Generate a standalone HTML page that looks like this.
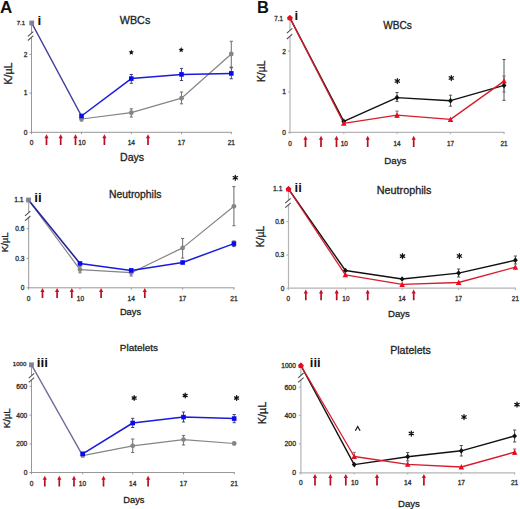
<!DOCTYPE html>
<html><head><meta charset="utf-8"><style>
html,body{margin:0;padding:0;background:#fff;}
svg{display:block;font-family:"Liberation Sans", sans-serif;}
</style></head><body>
<svg width="520" height="509" viewBox="0 0 520 509">
<defs><linearGradient id="ag" x1="0" y1="0" x2="0" y2="1"><stop offset="0" stop-color="#d8102a"/><stop offset="1" stop-color="#a8101e"/></linearGradient></defs>
<rect width="520" height="509" fill="#fff"/>
<line x1="31.5" y1="24" x2="31.5" y2="132.3" stroke="#8c8c8c" stroke-width="0.9"/>
<line x1="31.0" y1="132.3" x2="231.8" y2="132.3" stroke="#8c8c8c" stroke-width="0.9"/>
<line x1="29.5" y1="54.4" x2="31.5" y2="54.4" stroke="#8c8c8c" stroke-width="0.9"/>
<text x="27.3" y="56.775999999999996" font-size="6.6" text-anchor="end" font-weight="normal" fill="#222" stroke="#333" stroke-width="0.3">2</text>
<line x1="29.5" y1="93.1" x2="31.5" y2="93.1" stroke="#8c8c8c" stroke-width="0.9"/>
<text x="27.3" y="95.476" font-size="6.6" text-anchor="end" font-weight="normal" fill="#222" stroke="#333" stroke-width="0.3">1</text>
<line x1="29.5" y1="132.3" x2="31.5" y2="132.3" stroke="#8c8c8c" stroke-width="0.9"/>
<text x="27.3" y="134.67600000000002" font-size="6.6" text-anchor="end" font-weight="normal" fill="#222" stroke="#333" stroke-width="0.3">0</text>
<line x1="31.5" y1="132.3" x2="31.5" y2="134.10000000000002" stroke="#8c8c8c" stroke-width="0.9"/>
<line x1="81.5" y1="132.3" x2="81.5" y2="134.10000000000002" stroke="#8c8c8c" stroke-width="0.9"/>
<line x1="131.3" y1="132.3" x2="131.3" y2="134.10000000000002" stroke="#8c8c8c" stroke-width="0.9"/>
<line x1="181.5" y1="132.3" x2="181.5" y2="134.10000000000002" stroke="#8c8c8c" stroke-width="0.9"/>
<line x1="231.3" y1="132.3" x2="231.3" y2="134.10000000000002" stroke="#8c8c8c" stroke-width="0.9"/>
<text x="31.5" y="145.2" font-size="6.6" text-anchor="middle" font-weight="normal" fill="#222" stroke="#333" stroke-width="0.3">0</text>
<text x="82.0" y="145.2" font-size="6.6" text-anchor="middle" font-weight="normal" fill="#222" stroke="#333" stroke-width="0.3">10</text>
<text x="131.3" y="145.2" font-size="6.6" text-anchor="middle" font-weight="normal" fill="#222" stroke="#333" stroke-width="0.3">14</text>
<text x="181.5" y="145.2" font-size="6.6" text-anchor="middle" font-weight="normal" fill="#222" stroke="#333" stroke-width="0.3">17</text>
<text x="231.3" y="145.2" font-size="6.6" text-anchor="middle" font-weight="normal" fill="#222" stroke="#333" stroke-width="0.3">21</text>
<path d="M27.90,36.40 L33.30,31.60 L33.30,35.70 L27.90,40.50 Z" fill="#fff"/>
<line x1="27.90" y1="36.40" x2="33.30" y2="31.60" stroke="#505050" stroke-width="1.1"/>
<line x1="27.90" y1="40.50" x2="33.30" y2="35.70" stroke="#505050" stroke-width="1.1"/>
<text x="25.1" y="25.2" font-size="6.0" text-anchor="end" font-weight="normal" fill="#222" stroke="#333" stroke-width="0.3">7.1</text>
<text x="37.6" y="25.2" font-size="13.5" text-anchor="start" font-weight="bold" fill="#111" >i</text>
<text x="135" y="23.7" font-size="10.8" text-anchor="middle" font-weight="normal" fill="#222" stroke="#222" stroke-width="0.3">WBCs</text>
<text x="132.1" y="161.3" font-size="10.6" text-anchor="middle" font-weight="normal" fill="#222" stroke="#222" stroke-width="0.3">Days</text>
<text x="0" y="0" font-size="10.8" text-anchor="middle" font-weight="normal" fill="#222" transform="translate(12.1,73.6) rotate(-90)" stroke="#222" stroke-width="0.3">K/µL</text>
<path d="M45.65,145.10 L45.65,138.30 L44.40,138.30 L46.50,134.30 L48.60,138.30 L47.35,138.30 L47.35,145.10 Z" fill="url(#ag)"/>
<path d="M59.85,145.10 L59.85,138.30 L58.60,138.30 L60.70,134.30 L62.80,138.30 L61.55,138.30 L61.55,145.10 Z" fill="url(#ag)"/>
<path d="M74.65,145.10 L74.65,138.30 L73.40,138.30 L75.50,134.30 L77.60,138.30 L76.35,138.30 L76.35,145.10 Z" fill="url(#ag)"/>
<path d="M103.55,145.10 L103.55,138.30 L102.30,138.30 L104.40,134.30 L106.50,138.30 L105.25,138.30 L105.25,145.10 Z" fill="url(#ag)"/>
<path d="M147.15,145.10 L147.15,138.30 L145.90,138.30 L148.00,134.30 L150.10,138.30 L148.85,138.30 L148.85,145.10 Z" fill="url(#ag)"/>
<line x1="81.5" y1="117" x2="81.5" y2="121" stroke="#777" stroke-width="1.1"/>
<line x1="79.9" y1="117" x2="83.1" y2="117" stroke="#777" stroke-width="1.1"/>
<line x1="79.9" y1="121" x2="83.1" y2="121" stroke="#777" stroke-width="1.1"/>
<line x1="131.3" y1="108.8" x2="131.3" y2="117" stroke="#777" stroke-width="1.1"/>
<line x1="129.70000000000002" y1="108.8" x2="132.9" y2="108.8" stroke="#777" stroke-width="1.1"/>
<line x1="129.70000000000002" y1="117" x2="132.9" y2="117" stroke="#777" stroke-width="1.1"/>
<line x1="181.5" y1="92" x2="181.5" y2="103.8" stroke="#777" stroke-width="1.1"/>
<line x1="179.9" y1="92" x2="183.1" y2="92" stroke="#777" stroke-width="1.1"/>
<line x1="179.9" y1="103.8" x2="183.1" y2="103.8" stroke="#777" stroke-width="1.1"/>
<line x1="231.3" y1="41.3" x2="231.3" y2="67" stroke="#777" stroke-width="1.1"/>
<line x1="229.70000000000002" y1="41.3" x2="232.9" y2="41.3" stroke="#777" stroke-width="1.1"/>
<line x1="229.70000000000002" y1="67" x2="232.9" y2="67" stroke="#777" stroke-width="1.1"/>
<line x1="131.3" y1="74.5" x2="131.3" y2="83.3" stroke="#333366" stroke-width="0.9"/>
<line x1="129.70000000000002" y1="74.5" x2="132.9" y2="74.5" stroke="#333366" stroke-width="0.9"/>
<line x1="129.70000000000002" y1="83.3" x2="132.9" y2="83.3" stroke="#333366" stroke-width="0.9"/>
<line x1="181.5" y1="68.4" x2="181.5" y2="80.5" stroke="#333366" stroke-width="0.9"/>
<line x1="179.9" y1="68.4" x2="183.1" y2="68.4" stroke="#333366" stroke-width="0.9"/>
<line x1="179.9" y1="80.5" x2="183.1" y2="80.5" stroke="#333366" stroke-width="0.9"/>
<line x1="231.3" y1="67.8" x2="231.3" y2="78.8" stroke="#333366" stroke-width="0.9"/>
<line x1="229.70000000000002" y1="67.8" x2="232.9" y2="67.8" stroke="#333366" stroke-width="0.9"/>
<line x1="229.70000000000002" y1="78.8" x2="232.9" y2="78.8" stroke="#333366" stroke-width="0.9"/>
<polyline points="81.50,119.00 131.30,112.70 181.50,98.20 231.30,54.00" fill="none" stroke="#858585" stroke-width="1.2" stroke-linejoin="round"/>
<polyline points="81.50,116.00 131.30,78.60 181.50,74.40 231.30,73.40" fill="none" stroke="#1a1ae0" stroke-width="1.5" stroke-linejoin="round"/>
<polyline points="31.70,23.00 81.50,116.00" fill="none" stroke="#3c3c98" stroke-width="1.45" stroke-linejoin="round"/>
<circle cx="81.50" cy="119.00" r="2.4" fill="#858585"/>
<circle cx="131.30" cy="112.70" r="2.4" fill="#858585"/>
<circle cx="181.50" cy="98.20" r="2.4" fill="#858585"/>
<circle cx="231.30" cy="54.00" r="2.4" fill="#858585"/>
<rect x="79.20" y="113.70" width="4.6" height="4.6" fill="#0a0af0"/>
<rect x="129.00" y="76.30" width="4.6" height="4.6" fill="#0a0af0"/>
<rect x="179.20" y="72.10" width="4.6" height="4.6" fill="#0a0af0"/>
<rect x="229.00" y="71.10" width="4.6" height="4.6" fill="#0a0af0"/>
<rect x="29.30" y="20.60" width="4.8" height="4.8" fill="#80809e"/>
<polygon points="131.30,49.60 132.06,51.35 133.96,51.53 132.54,52.80 132.95,54.67 131.30,53.70 129.65,54.67 130.06,52.80 128.64,51.53 130.54,51.35" fill="#111"/>
<polygon points="181.20,47.10 181.96,48.85 183.86,49.03 182.44,50.30 182.85,52.17 181.20,51.20 179.55,52.17 179.96,50.30 178.54,49.03 180.44,48.85" fill="#111"/>
<line x1="28.7" y1="201" x2="28.7" y2="287.8" stroke="#8c8c8c" stroke-width="0.9"/>
<line x1="28.2" y1="287.8" x2="234.4" y2="287.8" stroke="#8c8c8c" stroke-width="0.9"/>
<line x1="26.7" y1="228.7" x2="28.7" y2="228.7" stroke="#8c8c8c" stroke-width="0.9"/>
<text x="24.5" y="231.076" font-size="6.6" text-anchor="end" font-weight="normal" fill="#222" stroke="#333" stroke-width="0.3">0.6</text>
<line x1="26.7" y1="258.3" x2="28.7" y2="258.3" stroke="#8c8c8c" stroke-width="0.9"/>
<text x="24.5" y="260.676" font-size="6.6" text-anchor="end" font-weight="normal" fill="#222" stroke="#333" stroke-width="0.3">0.3</text>
<line x1="26.7" y1="287.8" x2="28.7" y2="287.8" stroke="#8c8c8c" stroke-width="0.9"/>
<text x="24.5" y="290.176" font-size="6.6" text-anchor="end" font-weight="normal" fill="#222" stroke="#333" stroke-width="0.3">0</text>
<line x1="28.7" y1="287.8" x2="28.7" y2="289.6" stroke="#8c8c8c" stroke-width="0.9"/>
<line x1="80" y1="287.8" x2="80" y2="289.6" stroke="#8c8c8c" stroke-width="0.9"/>
<line x1="131.2" y1="287.8" x2="131.2" y2="289.6" stroke="#8c8c8c" stroke-width="0.9"/>
<line x1="182.6" y1="287.8" x2="182.6" y2="289.6" stroke="#8c8c8c" stroke-width="0.9"/>
<line x1="233.9" y1="287.8" x2="233.9" y2="289.6" stroke="#8c8c8c" stroke-width="0.9"/>
<text x="28.7" y="300.6" font-size="6.6" text-anchor="middle" font-weight="normal" fill="#222" stroke="#333" stroke-width="0.3">0</text>
<text x="80.5" y="300.6" font-size="6.6" text-anchor="middle" font-weight="normal" fill="#222" stroke="#333" stroke-width="0.3">10</text>
<text x="131.2" y="300.6" font-size="6.6" text-anchor="middle" font-weight="normal" fill="#222" stroke="#333" stroke-width="0.3">14</text>
<text x="182.6" y="300.6" font-size="6.6" text-anchor="middle" font-weight="normal" fill="#222" stroke="#333" stroke-width="0.3">17</text>
<text x="233.9" y="300.6" font-size="6.6" text-anchor="middle" font-weight="normal" fill="#222" stroke="#333" stroke-width="0.3">21</text>
<path d="M25.00,215.90 L30.40,211.10 L30.40,216.00 L25.00,220.80 Z" fill="#fff"/>
<line x1="25.00" y1="215.90" x2="30.40" y2="211.10" stroke="#505050" stroke-width="1.1"/>
<line x1="25.00" y1="220.80" x2="30.40" y2="216.00" stroke="#505050" stroke-width="1.1"/>
<text x="23.6" y="202.3" font-size="6.8" text-anchor="end" font-weight="normal" fill="#222" stroke="#333" stroke-width="0.3">1.1</text>
<text x="34.3" y="202.2" font-size="13.5" text-anchor="start" font-weight="bold" fill="#111" >ii</text>
<text x="135.2" y="198" font-size="10.35" text-anchor="middle" font-weight="normal" fill="#222" stroke="#222" stroke-width="0.3">Neutrophils</text>
<text x="130.5" y="315" font-size="9.3" text-anchor="middle" font-weight="normal" fill="#222" stroke="#222" stroke-width="0.3">Days</text>
<text x="0" y="0" font-size="9.6" text-anchor="middle" font-weight="normal" fill="#222" transform="translate(8.2,242.3) rotate(-90)" stroke="#222" stroke-width="0.3">K/µL</text>
<path d="M41.65,298.00 L41.65,292.00 L40.40,292.00 L42.50,288.00 L44.60,292.00 L43.35,292.00 L43.35,298.00 Z" fill="url(#ag)"/>
<path d="M56.25,298.00 L56.25,292.00 L55.00,292.00 L57.10,288.00 L59.20,292.00 L57.95,292.00 L57.95,298.00 Z" fill="url(#ag)"/>
<path d="M70.95,298.00 L70.95,292.00 L69.70,292.00 L71.80,288.00 L73.90,292.00 L72.65,292.00 L72.65,298.00 Z" fill="url(#ag)"/>
<path d="M100.25,298.00 L100.25,292.00 L99.00,292.00 L101.10,288.00 L103.20,292.00 L101.95,292.00 L101.95,298.00 Z" fill="url(#ag)"/>
<path d="M143.95,298.00 L143.95,292.00 L142.70,292.00 L144.80,288.00 L146.90,292.00 L145.65,292.00 L145.65,298.00 Z" fill="url(#ag)"/>
<line x1="80" y1="266.5" x2="80" y2="272.8" stroke="#777" stroke-width="1.1"/>
<line x1="78.4" y1="266.5" x2="81.6" y2="266.5" stroke="#777" stroke-width="1.1"/>
<line x1="78.4" y1="272.8" x2="81.6" y2="272.8" stroke="#777" stroke-width="1.1"/>
<line x1="131.2" y1="270" x2="131.2" y2="276" stroke="#777" stroke-width="1.1"/>
<line x1="129.6" y1="270" x2="132.79999999999998" y2="270" stroke="#777" stroke-width="1.1"/>
<line x1="129.6" y1="276" x2="132.79999999999998" y2="276" stroke="#777" stroke-width="1.1"/>
<line x1="182.6" y1="238.5" x2="182.6" y2="258.1" stroke="#777" stroke-width="1.1"/>
<line x1="181.0" y1="238.5" x2="184.2" y2="238.5" stroke="#777" stroke-width="1.1"/>
<line x1="181.0" y1="258.1" x2="184.2" y2="258.1" stroke="#777" stroke-width="1.1"/>
<line x1="233.9" y1="186.6" x2="233.9" y2="225.7" stroke="#777" stroke-width="1.1"/>
<line x1="232.3" y1="186.6" x2="235.5" y2="186.6" stroke="#777" stroke-width="1.1"/>
<line x1="232.3" y1="225.7" x2="235.5" y2="225.7" stroke="#777" stroke-width="1.1"/>
<line x1="233.9" y1="241" x2="233.9" y2="246.6" stroke="#333366" stroke-width="0.9"/>
<line x1="232.3" y1="241" x2="235.5" y2="241" stroke="#333366" stroke-width="0.9"/>
<line x1="232.3" y1="246.6" x2="235.5" y2="246.6" stroke="#333366" stroke-width="0.9"/>
<polyline points="80.00,269.60 131.20,272.70 182.60,247.90 233.90,206.30" fill="none" stroke="#858585" stroke-width="1.2" stroke-linejoin="round"/>
<polyline points="28.50,200.00 80.00,269.60" fill="none" stroke="#858585" stroke-width="1.2" stroke-linejoin="round"/>
<polyline points="80.00,263.50 131.20,270.40 182.60,262.50 233.90,243.60" fill="none" stroke="#1a1ae0" stroke-width="1.5" stroke-linejoin="round"/>
<polyline points="28.50,200.00 80.00,263.50" fill="none" stroke="#24229a" stroke-width="1.6" stroke-linejoin="round"/>
<circle cx="80.00" cy="269.60" r="2.4" fill="#858585"/>
<circle cx="131.20" cy="272.70" r="2.4" fill="#858585"/>
<circle cx="182.60" cy="247.90" r="2.4" fill="#858585"/>
<circle cx="233.90" cy="206.30" r="2.4" fill="#858585"/>
<rect x="77.70" y="261.20" width="4.6" height="4.6" fill="#0a0af0"/>
<rect x="128.90" y="268.10" width="4.6" height="4.6" fill="#0a0af0"/>
<rect x="180.30" y="260.20" width="4.6" height="4.6" fill="#0a0af0"/>
<rect x="231.60" y="241.30" width="4.6" height="4.6" fill="#0a0af0"/>
<rect x="26.10" y="197.60" width="4.8" height="4.8" fill="#80809e"/>
<path d="M235.30,175.30L235.30,180.30M233.13,176.55L237.47,179.05M237.47,176.55L233.13,179.05" stroke="#111" stroke-width="1.25" stroke-linecap="round" fill="none"/>
<line x1="31.5" y1="366" x2="31.5" y2="472.5" stroke="#8c8c8c" stroke-width="0.9"/>
<line x1="31.0" y1="472.5" x2="234.7" y2="472.5" stroke="#8c8c8c" stroke-width="0.9"/>
<line x1="29.5" y1="386.3" x2="31.5" y2="386.3" stroke="#8c8c8c" stroke-width="0.9"/>
<text x="27.3" y="388.676" font-size="6.6" text-anchor="end" font-weight="normal" fill="#222" stroke="#333" stroke-width="0.3">600</text>
<line x1="29.5" y1="415.2" x2="31.5" y2="415.2" stroke="#8c8c8c" stroke-width="0.9"/>
<text x="27.3" y="417.57599999999996" font-size="6.6" text-anchor="end" font-weight="normal" fill="#222" stroke="#333" stroke-width="0.3">400</text>
<line x1="29.5" y1="443.9" x2="31.5" y2="443.9" stroke="#8c8c8c" stroke-width="0.9"/>
<text x="27.3" y="446.27599999999995" font-size="6.6" text-anchor="end" font-weight="normal" fill="#222" stroke="#333" stroke-width="0.3">200</text>
<line x1="29.5" y1="472.5" x2="31.5" y2="472.5" stroke="#8c8c8c" stroke-width="0.9"/>
<text x="27.3" y="474.876" font-size="6.6" text-anchor="end" font-weight="normal" fill="#222" stroke="#333" stroke-width="0.3">0</text>
<line x1="31.5" y1="472.5" x2="31.5" y2="474.3" stroke="#8c8c8c" stroke-width="0.9"/>
<line x1="82.7" y1="472.5" x2="82.7" y2="474.3" stroke="#8c8c8c" stroke-width="0.9"/>
<line x1="132.7" y1="472.5" x2="132.7" y2="474.3" stroke="#8c8c8c" stroke-width="0.9"/>
<line x1="183.5" y1="472.5" x2="183.5" y2="474.3" stroke="#8c8c8c" stroke-width="0.9"/>
<line x1="234.2" y1="472.5" x2="234.2" y2="474.3" stroke="#8c8c8c" stroke-width="0.9"/>
<text x="31.5" y="485.8" font-size="6.6" text-anchor="middle" font-weight="normal" fill="#222" stroke="#333" stroke-width="0.3">0</text>
<text x="82.5" y="485.8" font-size="6.6" text-anchor="middle" font-weight="normal" fill="#222" stroke="#333" stroke-width="0.3">10</text>
<text x="132.7" y="485.8" font-size="6.6" text-anchor="middle" font-weight="normal" fill="#222" stroke="#333" stroke-width="0.3">14</text>
<text x="183.5" y="485.8" font-size="6.6" text-anchor="middle" font-weight="normal" fill="#222" stroke="#333" stroke-width="0.3">17</text>
<text x="234.2" y="485.8" font-size="6.6" text-anchor="middle" font-weight="normal" fill="#222" stroke="#333" stroke-width="0.3">21</text>
<path d="M28.80,378.10 L34.20,373.30 L34.20,377.60 L28.80,382.40 Z" fill="#fff"/>
<line x1="28.80" y1="378.10" x2="34.20" y2="373.30" stroke="#505050" stroke-width="1.1"/>
<line x1="28.80" y1="382.40" x2="34.20" y2="377.60" stroke="#505050" stroke-width="1.1"/>
<text x="26.4" y="366.2" font-size="6.1" text-anchor="end" font-weight="normal" fill="#222" stroke="#333" stroke-width="0.3">1000</text>
<text x="36.8" y="367.4" font-size="13.5" text-anchor="start" font-weight="bold" fill="#111" >iii</text>
<text x="138.9" y="351" font-size="9.95" text-anchor="middle" font-weight="normal" fill="#222" stroke="#222" stroke-width="0.3">Platelets</text>
<text x="133.9" y="502.6" font-size="9.3" text-anchor="middle" font-weight="normal" fill="#222" stroke="#222" stroke-width="0.3">Days</text>
<text x="0" y="0" font-size="9.6" text-anchor="middle" font-weight="normal" fill="#222" transform="translate(9.5,418.3) rotate(-90)" stroke="#222" stroke-width="0.3">K/µL</text>
<path d="M43.95,486.60 L43.95,479.80 L42.70,479.80 L44.80,475.80 L46.90,479.80 L45.65,479.80 L45.65,486.60 Z" fill="url(#ag)"/>
<path d="M58.45,486.60 L58.45,479.80 L57.20,479.80 L59.30,475.80 L61.40,479.80 L60.15,479.80 L60.15,486.60 Z" fill="url(#ag)"/>
<path d="M73.15,486.60 L73.15,479.80 L71.90,479.80 L74.00,475.80 L76.10,479.80 L74.85,479.80 L74.85,486.60 Z" fill="url(#ag)"/>
<path d="M102.65,486.60 L102.65,479.80 L101.40,479.80 L103.50,475.80 L105.60,479.80 L104.35,479.80 L104.35,486.60 Z" fill="url(#ag)"/>
<path d="M147.25,486.60 L147.25,479.80 L146.00,479.80 L148.10,475.80 L150.20,479.80 L148.95,479.80 L148.95,486.60 Z" fill="url(#ag)"/>
<line x1="132.7" y1="439" x2="132.7" y2="452.5" stroke="#777" stroke-width="1.1"/>
<line x1="131.1" y1="439" x2="134.29999999999998" y2="439" stroke="#777" stroke-width="1.1"/>
<line x1="131.1" y1="452.5" x2="134.29999999999998" y2="452.5" stroke="#777" stroke-width="1.1"/>
<line x1="183.5" y1="435.5" x2="183.5" y2="445" stroke="#777" stroke-width="1.1"/>
<line x1="181.9" y1="435.5" x2="185.1" y2="435.5" stroke="#777" stroke-width="1.1"/>
<line x1="181.9" y1="445" x2="185.1" y2="445" stroke="#777" stroke-width="1.1"/>
<line x1="132.7" y1="418.3" x2="132.7" y2="427.5" stroke="#333366" stroke-width="0.9"/>
<line x1="131.1" y1="418.3" x2="134.29999999999998" y2="418.3" stroke="#333366" stroke-width="0.9"/>
<line x1="131.1" y1="427.5" x2="134.29999999999998" y2="427.5" stroke="#333366" stroke-width="0.9"/>
<line x1="183.5" y1="412" x2="183.5" y2="422" stroke="#333366" stroke-width="0.9"/>
<line x1="181.9" y1="412" x2="185.1" y2="412" stroke="#333366" stroke-width="0.9"/>
<line x1="181.9" y1="422" x2="185.1" y2="422" stroke="#333366" stroke-width="0.9"/>
<line x1="234.2" y1="414.5" x2="234.2" y2="422.7" stroke="#333366" stroke-width="0.9"/>
<line x1="232.6" y1="414.5" x2="235.79999999999998" y2="414.5" stroke="#333366" stroke-width="0.9"/>
<line x1="232.6" y1="422.7" x2="235.79999999999998" y2="422.7" stroke="#333366" stroke-width="0.9"/>
<polyline points="82.70,455.70 132.70,445.80 183.50,439.60 234.20,443.50" fill="none" stroke="#858585" stroke-width="1.2" stroke-linejoin="round"/>
<polyline points="31.50,364.80 82.70,455.70" fill="none" stroke="#6c6c9e" stroke-width="1.35" stroke-linejoin="round"/>
<polyline points="82.70,453.80 132.70,423.00 183.50,417.10 234.20,418.60" fill="none" stroke="#1a1ae0" stroke-width="1.5" stroke-linejoin="round"/>
<circle cx="82.70" cy="455.70" r="2.4" fill="#858585"/>
<circle cx="132.70" cy="445.80" r="2.4" fill="#858585"/>
<circle cx="183.50" cy="439.60" r="2.4" fill="#858585"/>
<circle cx="234.20" cy="443.50" r="2.4" fill="#858585"/>
<rect x="80.40" y="451.50" width="4.6" height="4.6" fill="#0a0af0"/>
<rect x="130.40" y="420.70" width="4.6" height="4.6" fill="#0a0af0"/>
<rect x="181.20" y="414.80" width="4.6" height="4.6" fill="#0a0af0"/>
<rect x="231.90" y="416.30" width="4.6" height="4.6" fill="#0a0af0"/>
<rect x="29.10" y="362.40" width="4.8" height="4.8" fill="#80809e"/>
<path d="M134.20,395.70L134.20,400.30M132.21,396.85L136.19,399.15M136.19,396.85L132.21,399.15" stroke="#111" stroke-width="1.25" stroke-linecap="round" fill="none"/>
<path d="M185.20,393.20L185.20,397.80M183.21,394.35L187.19,396.65M187.19,394.35L183.21,396.65" stroke="#111" stroke-width="1.25" stroke-linecap="round" fill="none"/>
<path d="M236.60,395.70L236.60,400.30M234.61,396.85L238.59,399.15M238.59,396.85L234.61,399.15" stroke="#111" stroke-width="1.25" stroke-linecap="round" fill="none"/>
<line x1="290" y1="19" x2="290" y2="132.3" stroke="#b4b4b4" stroke-width="1.2"/>
<line x1="289.5" y1="132.3" x2="504.5" y2="132.3" stroke="#b4b4b4" stroke-width="1.2"/>
<line x1="288" y1="51.2" x2="290" y2="51.2" stroke="#b4b4b4" stroke-width="1.2"/>
<text x="285.8" y="53.576" font-size="6.6" text-anchor="end" font-weight="normal" fill="#222" stroke="#333" stroke-width="0.3">2</text>
<line x1="288" y1="92" x2="290" y2="92" stroke="#b4b4b4" stroke-width="1.2"/>
<text x="285.8" y="94.376" font-size="6.6" text-anchor="end" font-weight="normal" fill="#222" stroke="#333" stroke-width="0.3">1</text>
<line x1="288" y1="132.3" x2="290" y2="132.3" stroke="#b4b4b4" stroke-width="1.2"/>
<text x="285.8" y="134.67600000000002" font-size="6.6" text-anchor="end" font-weight="normal" fill="#222" stroke="#333" stroke-width="0.3">0</text>
<line x1="290" y1="132.3" x2="290" y2="134.10000000000002" stroke="#b4b4b4" stroke-width="1.2"/>
<line x1="343.8" y1="132.3" x2="343.8" y2="134.10000000000002" stroke="#b4b4b4" stroke-width="1.2"/>
<line x1="397" y1="132.3" x2="397" y2="134.10000000000002" stroke="#b4b4b4" stroke-width="1.2"/>
<line x1="450.5" y1="132.3" x2="450.5" y2="134.10000000000002" stroke="#b4b4b4" stroke-width="1.2"/>
<line x1="504" y1="132.3" x2="504" y2="134.10000000000002" stroke="#b4b4b4" stroke-width="1.2"/>
<text x="290.0" y="145.5" font-size="6.4" text-anchor="middle" font-weight="normal" fill="#222" stroke="#333" stroke-width="0.3">0</text>
<text x="344.3" y="145.5" font-size="6.4" text-anchor="middle" font-weight="normal" fill="#222" stroke="#333" stroke-width="0.3">10</text>
<text x="397.0" y="145.5" font-size="6.4" text-anchor="middle" font-weight="normal" fill="#222" stroke="#333" stroke-width="0.3">14</text>
<text x="450.5" y="145.5" font-size="6.4" text-anchor="middle" font-weight="normal" fill="#222" stroke="#333" stroke-width="0.3">17</text>
<text x="504.0" y="145.5" font-size="6.4" text-anchor="middle" font-weight="normal" fill="#222" stroke="#333" stroke-width="0.3">21</text>
<path d="M286.90,33.10 L292.30,28.30 L292.30,34.20 L286.90,39.00 Z" fill="#fff"/>
<line x1="286.90" y1="33.10" x2="292.30" y2="28.30" stroke="#505050" stroke-width="1.1"/>
<line x1="286.90" y1="39.00" x2="292.30" y2="34.20" stroke="#505050" stroke-width="1.1"/>
<text x="282.9" y="20.7" font-size="6.3" text-anchor="end" font-weight="normal" fill="#222" stroke="#333" stroke-width="0.3">7.1</text>
<text x="294.4" y="20.2" font-size="13.0" text-anchor="start" font-weight="bold" fill="#111" >i</text>
<text x="397.5" y="28.8" font-size="10.1" text-anchor="middle" font-weight="normal" fill="#222" stroke="#222" stroke-width="0.3">WBCs</text>
<text x="395.3" y="164.2" font-size="9.7" text-anchor="middle" font-weight="normal" fill="#222" stroke="#222" stroke-width="0.3">Days</text>
<text x="0" y="0" font-size="10.4" text-anchor="middle" font-weight="normal" fill="#222" transform="translate(264.5,71.3) rotate(-90)" stroke="#222" stroke-width="0.3">K/µL</text>
<path d="M304.65,147.00 L304.65,139.80 L303.40,139.80 L305.50,135.80 L307.60,139.80 L306.35,139.80 L306.35,147.00 Z" fill="url(#ag)"/>
<path d="M320.15,147.00 L320.15,139.80 L318.90,139.80 L321.00,135.80 L323.10,139.80 L321.85,139.80 L321.85,147.00 Z" fill="url(#ag)"/>
<path d="M335.65,147.00 L335.65,139.80 L334.40,139.80 L336.50,135.80 L338.60,139.80 L337.35,139.80 L337.35,147.00 Z" fill="url(#ag)"/>
<path d="M366.85,147.00 L366.85,139.80 L365.60,139.80 L367.70,135.80 L369.80,139.80 L368.55,139.80 L368.55,147.00 Z" fill="url(#ag)"/>
<path d="M412.85,147.00 L412.85,139.80 L411.60,139.80 L413.70,135.80 L415.80,139.80 L414.55,139.80 L414.55,147.00 Z" fill="url(#ag)"/>
<line x1="397" y1="92.5" x2="397" y2="101.4" stroke="#444" stroke-width="0.9"/>
<line x1="395.4" y1="92.5" x2="398.6" y2="92.5" stroke="#444" stroke-width="0.9"/>
<line x1="395.4" y1="101.4" x2="398.6" y2="101.4" stroke="#444" stroke-width="0.9"/>
<line x1="450.5" y1="95.2" x2="450.5" y2="106.2" stroke="#444" stroke-width="0.9"/>
<line x1="448.9" y1="95.2" x2="452.1" y2="95.2" stroke="#444" stroke-width="0.9"/>
<line x1="448.9" y1="106.2" x2="452.1" y2="106.2" stroke="#444" stroke-width="0.9"/>
<line x1="504" y1="59.5" x2="504" y2="100.3" stroke="#444" stroke-width="0.9"/>
<line x1="502.4" y1="59.5" x2="505.6" y2="59.5" stroke="#444" stroke-width="0.9"/>
<line x1="502.4" y1="100.3" x2="505.6" y2="100.3" stroke="#444" stroke-width="0.9"/>
<line x1="397" y1="111.1" x2="397" y2="117.4" stroke="#666" stroke-width="0.9"/>
<line x1="395.4" y1="111.1" x2="398.6" y2="111.1" stroke="#666" stroke-width="0.9"/>
<line x1="395.4" y1="117.4" x2="398.6" y2="117.4" stroke="#666" stroke-width="0.9"/>
<line x1="504" y1="76" x2="504" y2="92" stroke="#666" stroke-width="0.9"/>
<line x1="502.4" y1="76" x2="505.6" y2="76" stroke="#666" stroke-width="0.9"/>
<line x1="502.4" y1="92" x2="505.6" y2="92" stroke="#666" stroke-width="0.9"/>
<polyline points="343.80,121.40 397.00,97.60 450.50,100.70 504.00,85.40" fill="none" stroke="#111" stroke-width="1.4" stroke-linejoin="round"/>
<polyline points="289.90,17.90 343.80,121.40" fill="none" stroke="#111" stroke-width="1.4" stroke-linejoin="round"/>
<polyline points="343.80,123.30 397.00,115.20 450.50,119.40 504.00,81.10" fill="none" stroke="#d81c2c" stroke-width="1.3" stroke-linejoin="round"/>
<polyline points="289.90,17.90 343.80,123.30" fill="none" stroke="#d81c2c" stroke-width="1.3" stroke-linejoin="round"/>
<path d="M343.80,118.55 L346.22,121.40 L343.80,124.25 L341.38,121.40 Z" fill="#111"/>
<path d="M397.00,94.75 L399.42,97.60 L397.00,100.45 L394.58,97.60 Z" fill="#111"/>
<path d="M450.50,97.85 L452.92,100.70 L450.50,103.55 L448.08,100.70 Z" fill="#111"/>
<path d="M504.00,82.55 L506.42,85.40 L504.00,88.25 L501.58,85.40 Z" fill="#111"/>
<path d="M343.80,120.30 L346.55,125.80 L341.05,125.80 Z" fill="#ec0a1e"/>
<path d="M397.00,112.20 L399.75,117.70 L394.25,117.70 Z" fill="#ec0a1e"/>
<path d="M450.50,116.40 L453.25,121.90 L447.75,121.90 Z" fill="#ec0a1e"/>
<path d="M504.00,78.10 L506.75,83.60 L501.25,83.60 Z" fill="#ec0a1e"/>
<path d="M289.90,15.20 L292.19,17.90 L289.90,20.60 L287.60,17.90 Z" fill="#111"/>
<path d="M289.90,15.00 L292.70,17.30 L292.10,20.30 L287.70,20.30 L287.10,17.30 Z" fill="#ec0a1e"/>
<path d="M397.30,78.50L397.30,83.50M395.13,79.75L399.47,82.25M399.47,79.75L395.13,82.25" stroke="#111" stroke-width="1.25" stroke-linecap="round" fill="none"/>
<path d="M451.30,75.50L451.30,80.50M449.13,76.75L453.47,79.25M453.47,76.75L449.13,79.25" stroke="#111" stroke-width="1.25" stroke-linecap="round" fill="none"/>
<line x1="288.5" y1="190" x2="288.5" y2="288.2" stroke="#b4b4b4" stroke-width="1.2"/>
<line x1="288.0" y1="288.2" x2="515.9" y2="288.2" stroke="#b4b4b4" stroke-width="1.2"/>
<line x1="286.5" y1="221.6" x2="288.5" y2="221.6" stroke="#b4b4b4" stroke-width="1.2"/>
<text x="284.3" y="223.976" font-size="6.6" text-anchor="end" font-weight="normal" fill="#222" stroke="#333" stroke-width="0.3">0.6</text>
<line x1="286.5" y1="255" x2="288.5" y2="255" stroke="#b4b4b4" stroke-width="1.2"/>
<text x="284.3" y="257.376" font-size="6.6" text-anchor="end" font-weight="normal" fill="#222" stroke="#333" stroke-width="0.3">0.3</text>
<line x1="286.5" y1="288.2" x2="288.5" y2="288.2" stroke="#b4b4b4" stroke-width="1.2"/>
<text x="284.3" y="290.57599999999996" font-size="6.6" text-anchor="end" font-weight="normal" fill="#222" stroke="#333" stroke-width="0.3">0</text>
<line x1="288.4" y1="288.2" x2="288.4" y2="290.0" stroke="#b4b4b4" stroke-width="1.2"/>
<line x1="345.4" y1="288.2" x2="345.4" y2="290.0" stroke="#b4b4b4" stroke-width="1.2"/>
<line x1="402.1" y1="288.2" x2="402.1" y2="290.0" stroke="#b4b4b4" stroke-width="1.2"/>
<line x1="458.6" y1="288.2" x2="458.6" y2="290.0" stroke="#b4b4b4" stroke-width="1.2"/>
<line x1="515.4" y1="288.2" x2="515.4" y2="290.0" stroke="#b4b4b4" stroke-width="1.2"/>
<text x="288.4" y="301" font-size="6.4" text-anchor="middle" font-weight="normal" fill="#222" stroke="#333" stroke-width="0.3">0</text>
<text x="345.9" y="301" font-size="6.4" text-anchor="middle" font-weight="normal" fill="#222" stroke="#333" stroke-width="0.3">10</text>
<text x="402.1" y="301" font-size="6.4" text-anchor="middle" font-weight="normal" fill="#222" stroke="#333" stroke-width="0.3">14</text>
<text x="458.6" y="301" font-size="6.4" text-anchor="middle" font-weight="normal" fill="#222" stroke="#333" stroke-width="0.3">17</text>
<text x="515.4" y="301" font-size="6.4" text-anchor="middle" font-weight="normal" fill="#222" stroke="#333" stroke-width="0.3">21</text>
<path d="M285.30,203.20 L290.70,198.40 L290.70,202.80 L285.30,207.60 Z" fill="#fff"/>
<line x1="285.30" y1="203.20" x2="290.70" y2="198.40" stroke="#505050" stroke-width="1.1"/>
<line x1="285.30" y1="207.60" x2="290.70" y2="202.80" stroke="#505050" stroke-width="1.1"/>
<text x="282.5" y="191.2" font-size="6.8" text-anchor="end" font-weight="normal" fill="#222" stroke="#333" stroke-width="0.3">1.1</text>
<text x="294.6" y="191.7" font-size="13.0" text-anchor="start" font-weight="bold" fill="#111" >ii</text>
<text x="404.1" y="194.3" font-size="10.8" text-anchor="middle" font-weight="normal" fill="#222" stroke="#222" stroke-width="0.3">Neutrophils</text>
<text x="398.9" y="317" font-size="9.6" text-anchor="middle" font-weight="normal" fill="#222" stroke="#222" stroke-width="0.3">Days</text>
<text x="0" y="0" font-size="10.4" text-anchor="middle" font-weight="normal" fill="#222" transform="translate(264.3,236.4) rotate(-90)" stroke="#222" stroke-width="0.3">K/µL</text>
<path d="M304.95,300.20 L304.95,293.50 L303.70,293.50 L305.80,289.50 L307.90,293.50 L306.65,293.50 L306.65,300.20 Z" fill="url(#ag)"/>
<path d="M320.25,300.20 L320.25,293.50 L319.00,293.50 L321.10,289.50 L323.20,293.50 L321.95,293.50 L321.95,300.20 Z" fill="url(#ag)"/>
<path d="M335.85,300.20 L335.85,293.50 L334.60,293.50 L336.70,289.50 L338.80,293.50 L337.55,293.50 L337.55,300.20 Z" fill="url(#ag)"/>
<path d="M366.85,300.20 L366.85,293.50 L365.60,293.50 L367.70,289.50 L369.80,293.50 L368.55,293.50 L368.55,300.20 Z" fill="url(#ag)"/>
<path d="M412.85,300.20 L412.85,293.50 L411.60,293.50 L413.70,289.50 L415.80,293.50 L414.55,293.50 L414.55,300.20 Z" fill="url(#ag)"/>
<line x1="458.6" y1="269" x2="458.6" y2="277" stroke="#444" stroke-width="0.9"/>
<line x1="457.0" y1="269" x2="460.20000000000005" y2="269" stroke="#444" stroke-width="0.9"/>
<line x1="457.0" y1="277" x2="460.20000000000005" y2="277" stroke="#444" stroke-width="0.9"/>
<line x1="515.4" y1="256" x2="515.4" y2="264" stroke="#444" stroke-width="0.9"/>
<line x1="513.8" y1="256" x2="517.0" y2="256" stroke="#444" stroke-width="0.9"/>
<line x1="513.8" y1="264" x2="517.0" y2="264" stroke="#444" stroke-width="0.9"/>
<polyline points="345.40,270.50 402.10,279.00 458.60,273.10 515.40,260.20" fill="none" stroke="#111" stroke-width="1.4" stroke-linejoin="round"/>
<polyline points="288.50,189.00 345.40,270.50" fill="none" stroke="#111" stroke-width="1.4" stroke-linejoin="round"/>
<polyline points="345.40,274.80 402.10,284.40 458.60,282.50 515.40,267.20" fill="none" stroke="#d81c2c" stroke-width="1.3" stroke-linejoin="round"/>
<polyline points="288.50,189.00 345.40,274.80" fill="none" stroke="#d81c2c" stroke-width="1.3" stroke-linejoin="round"/>
<path d="M345.40,267.65 L347.82,270.50 L345.40,273.35 L342.98,270.50 Z" fill="#111"/>
<path d="M402.10,276.15 L404.52,279.00 L402.10,281.85 L399.68,279.00 Z" fill="#111"/>
<path d="M458.60,270.25 L461.02,273.10 L458.60,275.95 L456.18,273.10 Z" fill="#111"/>
<path d="M515.40,257.35 L517.82,260.20 L515.40,263.05 L512.98,260.20 Z" fill="#111"/>
<path d="M345.40,271.80 L348.15,277.30 L342.65,277.30 Z" fill="#ec0a1e"/>
<path d="M402.10,281.40 L404.85,286.90 L399.35,286.90 Z" fill="#ec0a1e"/>
<path d="M458.60,279.50 L461.35,285.00 L455.85,285.00 Z" fill="#ec0a1e"/>
<path d="M515.40,264.20 L518.15,269.70 L512.65,269.70 Z" fill="#ec0a1e"/>
<path d="M288.50,186.30 L290.80,189.00 L288.50,191.70 L286.20,189.00 Z" fill="#111"/>
<path d="M288.50,186.10 L291.30,188.40 L290.70,191.40 L286.30,191.40 L285.70,188.40 Z" fill="#ec0a1e"/>
<path d="M402.50,253.60L402.50,258.60M400.33,254.85L404.67,257.35M404.67,254.85L400.33,257.35" stroke="#111" stroke-width="1.25" stroke-linecap="round" fill="none"/>
<path d="M459.40,253.50L459.40,258.50M457.23,254.75L461.57,257.25M461.57,254.75L457.23,257.25" stroke="#111" stroke-width="1.25" stroke-linecap="round" fill="none"/>
<line x1="300.9" y1="366" x2="300.9" y2="472.8" stroke="#b4b4b4" stroke-width="1.2"/>
<line x1="300.4" y1="472.8" x2="515.1" y2="472.8" stroke="#b4b4b4" stroke-width="1.2"/>
<line x1="298.9" y1="387.2" x2="300.9" y2="387.2" stroke="#b4b4b4" stroke-width="1.2"/>
<text x="296.0" y="389.68399999999997" font-size="6.9" text-anchor="end" font-weight="normal" fill="#222" stroke="#333" stroke-width="0.3">600</text>
<line x1="298.9" y1="415.4" x2="300.9" y2="415.4" stroke="#b4b4b4" stroke-width="1.2"/>
<text x="296.0" y="417.88399999999996" font-size="6.9" text-anchor="end" font-weight="normal" fill="#222" stroke="#333" stroke-width="0.3">400</text>
<line x1="298.9" y1="443.9" x2="300.9" y2="443.9" stroke="#b4b4b4" stroke-width="1.2"/>
<text x="296.0" y="446.38399999999996" font-size="6.9" text-anchor="end" font-weight="normal" fill="#222" stroke="#333" stroke-width="0.3">200</text>
<line x1="298.9" y1="472.8" x2="300.9" y2="472.8" stroke="#b4b4b4" stroke-width="1.2"/>
<text x="296.0" y="475.284" font-size="6.9" text-anchor="end" font-weight="normal" fill="#222" stroke="#333" stroke-width="0.3">0</text>
<line x1="300.9" y1="472.8" x2="300.9" y2="474.6" stroke="#b4b4b4" stroke-width="1.2"/>
<line x1="354.2" y1="472.8" x2="354.2" y2="474.6" stroke="#b4b4b4" stroke-width="1.2"/>
<line x1="407.7" y1="472.8" x2="407.7" y2="474.6" stroke="#b4b4b4" stroke-width="1.2"/>
<line x1="461.3" y1="472.8" x2="461.3" y2="474.6" stroke="#b4b4b4" stroke-width="1.2"/>
<line x1="514.6" y1="472.8" x2="514.6" y2="474.6" stroke="#b4b4b4" stroke-width="1.2"/>
<text x="300.9" y="484.9" font-size="6.6" text-anchor="middle" font-weight="normal" fill="#222" stroke="#333" stroke-width="0.3">0</text>
<text x="354.7" y="484.9" font-size="6.6" text-anchor="middle" font-weight="normal" fill="#222" stroke="#333" stroke-width="0.3">10</text>
<text x="407.7" y="484.9" font-size="6.6" text-anchor="middle" font-weight="normal" fill="#222" stroke="#333" stroke-width="0.3">14</text>
<text x="461.3" y="484.9" font-size="6.6" text-anchor="middle" font-weight="normal" fill="#222" stroke="#333" stroke-width="0.3">17</text>
<text x="514.6" y="484.9" font-size="6.6" text-anchor="middle" font-weight="normal" fill="#222" stroke="#333" stroke-width="0.3">21</text>
<path d="M298.20,377.80 L303.60,373.00 L303.60,377.60 L298.20,382.40 Z" fill="#fff"/>
<line x1="298.20" y1="377.80" x2="303.60" y2="373.00" stroke="#505050" stroke-width="1.1"/>
<line x1="298.20" y1="382.40" x2="303.60" y2="377.60" stroke="#505050" stroke-width="1.1"/>
<text x="295.9" y="367.5" font-size="6.6" text-anchor="end" font-weight="normal" fill="#222" stroke="#333" stroke-width="0.3">1000</text>
<text x="309.8" y="367.2" font-size="13.0" text-anchor="start" font-weight="bold" fill="#111" >iii</text>
<text x="410.5" y="353.9" font-size="10.6" text-anchor="middle" font-weight="normal" fill="#222" stroke="#222" stroke-width="0.3">Platelets</text>
<text x="408.9" y="506.5" font-size="9.6" text-anchor="middle" font-weight="normal" fill="#222" stroke="#222" stroke-width="0.3">Days</text>
<text x="0" y="0" font-size="10.8" text-anchor="middle" font-weight="normal" fill="#222" transform="translate(266.3,413) rotate(-90)" stroke="#222" stroke-width="0.3">K/µL</text>
<path d="M314.15,485.40 L314.15,477.90 L312.90,477.90 L315.00,473.90 L317.10,477.90 L315.85,477.90 L315.85,485.40 Z" fill="url(#ag)"/>
<path d="M329.55,485.40 L329.55,477.90 L328.30,477.90 L330.40,473.90 L332.50,477.90 L331.25,477.90 L331.25,485.40 Z" fill="url(#ag)"/>
<path d="M344.95,485.40 L344.95,477.90 L343.70,477.90 L345.80,473.90 L347.90,477.90 L346.65,477.90 L346.65,485.40 Z" fill="url(#ag)"/>
<path d="M376.15,485.40 L376.15,477.90 L374.90,477.90 L377.00,473.90 L379.10,477.90 L377.85,477.90 L377.85,485.40 Z" fill="url(#ag)"/>
<path d="M423.05,485.40 L423.05,477.90 L421.80,477.90 L423.90,473.90 L426.00,477.90 L424.75,477.90 L424.75,485.40 Z" fill="url(#ag)"/>
<line x1="407.7" y1="452.5" x2="407.7" y2="461" stroke="#444" stroke-width="0.9"/>
<line x1="406.09999999999997" y1="452.5" x2="409.3" y2="452.5" stroke="#444" stroke-width="0.9"/>
<line x1="406.09999999999997" y1="461" x2="409.3" y2="461" stroke="#444" stroke-width="0.9"/>
<line x1="461.3" y1="445.5" x2="461.3" y2="456" stroke="#444" stroke-width="0.9"/>
<line x1="459.7" y1="445.5" x2="462.90000000000003" y2="445.5" stroke="#444" stroke-width="0.9"/>
<line x1="459.7" y1="456" x2="462.90000000000003" y2="456" stroke="#444" stroke-width="0.9"/>
<line x1="514.6" y1="430" x2="514.6" y2="442" stroke="#444" stroke-width="0.9"/>
<line x1="513.0" y1="430" x2="516.2" y2="430" stroke="#444" stroke-width="0.9"/>
<line x1="513.0" y1="442" x2="516.2" y2="442" stroke="#444" stroke-width="0.9"/>
<line x1="354.2" y1="452.3" x2="354.2" y2="458.5" stroke="#666" stroke-width="0.9"/>
<line x1="352.59999999999997" y1="452.3" x2="355.8" y2="452.3" stroke="#666" stroke-width="0.9"/>
<line x1="352.59999999999997" y1="458.5" x2="355.8" y2="458.5" stroke="#666" stroke-width="0.9"/>
<line x1="514.6" y1="449" x2="514.6" y2="454.5" stroke="#666" stroke-width="0.9"/>
<line x1="513.0" y1="449" x2="516.2" y2="449" stroke="#666" stroke-width="0.9"/>
<line x1="513.0" y1="454.5" x2="516.2" y2="454.5" stroke="#666" stroke-width="0.9"/>
<polyline points="354.20,464.60 407.70,456.70 461.30,450.80 514.60,436.00" fill="none" stroke="#111" stroke-width="1.4" stroke-linejoin="round"/>
<polyline points="300.90,365.50 354.20,464.60" fill="none" stroke="#111" stroke-width="1.4" stroke-linejoin="round"/>
<polyline points="354.20,456.50 407.70,464.30 461.30,467.00 514.60,452.20" fill="none" stroke="#d81c2c" stroke-width="1.3" stroke-linejoin="round"/>
<polyline points="300.90,365.50 354.20,456.50" fill="none" stroke="#d81c2c" stroke-width="1.3" stroke-linejoin="round"/>
<path d="M354.20,461.75 L356.62,464.60 L354.20,467.45 L351.78,464.60 Z" fill="#111"/>
<path d="M407.70,453.85 L410.12,456.70 L407.70,459.55 L405.28,456.70 Z" fill="#111"/>
<path d="M461.30,447.95 L463.72,450.80 L461.30,453.65 L458.88,450.80 Z" fill="#111"/>
<path d="M514.60,433.15 L517.02,436.00 L514.60,438.85 L512.18,436.00 Z" fill="#111"/>
<path d="M354.20,453.50 L356.95,459.00 L351.45,459.00 Z" fill="#ec0a1e"/>
<path d="M407.70,461.30 L410.45,466.80 L404.95,466.80 Z" fill="#ec0a1e"/>
<path d="M461.30,464.00 L464.05,469.50 L458.55,469.50 Z" fill="#ec0a1e"/>
<path d="M514.60,449.20 L517.35,454.70 L511.85,454.70 Z" fill="#ec0a1e"/>
<path d="M300.90,362.80 L303.19,365.50 L300.90,368.20 L298.60,365.50 Z" fill="#111"/>
<path d="M300.90,362.60 L303.70,364.90 L303.10,367.90 L298.70,367.90 L298.10,364.90 Z" fill="#ec0a1e"/>
<path d="M411.30,431.00L411.30,436.00M409.13,432.25L413.47,434.75M413.47,432.25L409.13,434.75" stroke="#111" stroke-width="1.25" stroke-linecap="round" fill="none"/>
<path d="M464.00,414.50L464.00,419.50M461.83,415.75L466.17,418.25M466.17,415.75L461.83,418.25" stroke="#111" stroke-width="1.25" stroke-linecap="round" fill="none"/>
<path d="M517.00,402.10L517.00,407.10M514.83,403.35L519.17,405.85M519.17,403.35L514.83,405.85" stroke="#111" stroke-width="1.25" stroke-linecap="round" fill="none"/>
<polyline points="355.3,430.8 357.7,426.5 360.1,430.8" fill="none" stroke="#222" stroke-width="1.3"/>
<text x="0" y="0" font-size="17" text-anchor="start" font-weight="bold" fill="#111" transform="translate(-0.1,12.8) scale(1.0,1)">A</text>
<text x="0" y="0" font-size="17" text-anchor="start" font-weight="bold" fill="#111" transform="translate(256.9,12.8) scale(0.97,1)">B</text>
</svg>
</body></html>
